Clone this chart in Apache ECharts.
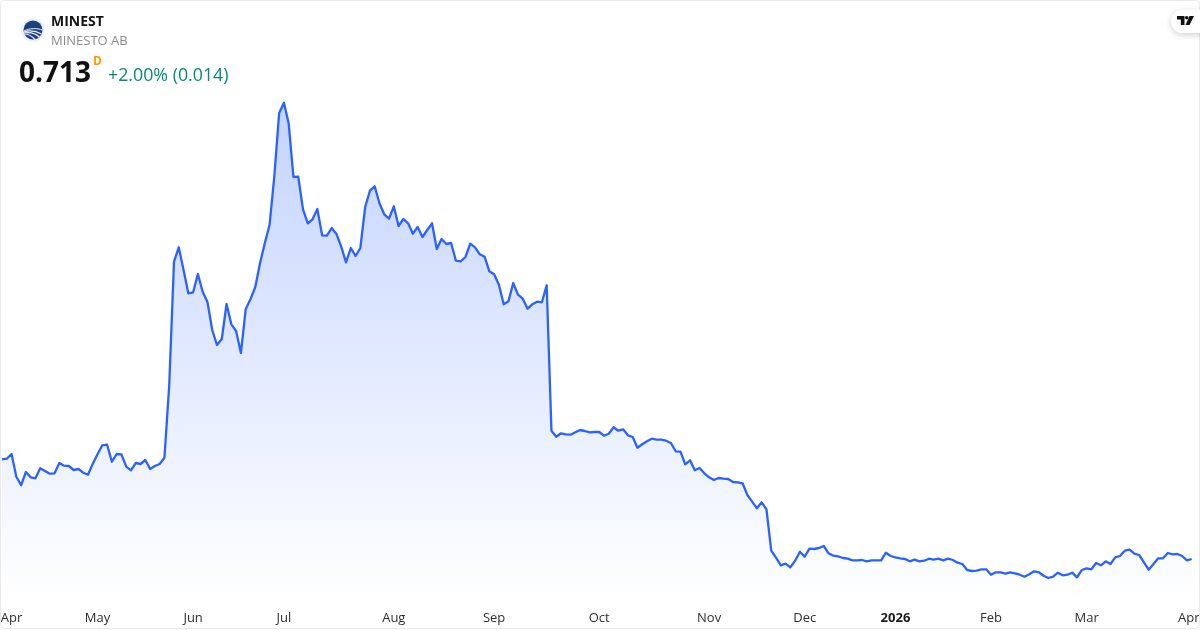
<!DOCTYPE html>
<html>
<head>
<meta charset="utf-8">
<style>html,body{margin:0;padding:0;background:#fff}#c{width:1200px;height:630px}</style>
<script src="https://cdn.jsdelivr.net/npm/echarts@6/dist/echarts.min.js"></script>
</head>
<body>
<div id="c"></div>
<script>
const symbol = "MINEST";
const company = "MINESTO AB";
const lastPrice = "0.713";
const resolution = "D";
const changeText = "+2.00% (0.014)";

const tradingDays = [
  ["2025-04", [1,2,3,4,7,8,9,10,11,14,15,16,17,22,23,24,25,28,29,30]],
  ["2025-05", [2,5,6,7,8,9,12,13,14,15,16,19,20,21,22,23,26,27,28,30]],
  ["2025-06", [2,3,4,5,9,10,11,12,13,16,17,18,19,23,24,25,26,27,30]],
  ["2025-07", [1,2,3,4,7,8,9,10,11,14,15,16,17,18,21,22,23,24,25,28,29,30,31]],
  ["2025-08", [1,4,5,6,7,8,11,12,13,14,15,18,19,20,21,22,25,26,27,28,29]],
  ["2025-09", [1,2,3,4,5,8,9,10,11,12,15,16,17,18,19,22,23,24,25,26,29,30]],
  ["2025-10", [1,2,3,6,7,8,9,10,13,14,15,16,17,20,21,22,23,24,27,28,29,30,31]],
  ["2025-11", [3,4,5,6,7,10,11,12,13,14,17,18,19,20,21,24,25,26,27,28]],
  ["2025-12", [1,2,3,4,5,8,9,10,11,12,15,16,17,18,19,22,23,29,30]],
  ["2026-01", [2,5,7,8,9,12,13,14,15,16,19,20,21,22,23,26,27,28,29,30]],
  ["2026-02", [2,3,4,5,6,9,10,11,12,13,16,17,18,19,20,23,24,25,26,27]],
  ["2026-03", [2,3,4,5,6,9,10,11,12,13,16,17,18,19,20,23,24,25,26,27,30,31]],
  ["2026-04", [1]]
];
const monthLabels = ["Apr","May","Jun","Jul","Aug","Sep","Oct","Nov","Dec","2026","Feb","Mar","Apr"];

const closeApr = [1.710,1.716,1.763,1.536,1.450,1.583,1.530,1.520,1.620,1.593,1.566,1.570,1.673,1.646,1.643,1.603,1.613,1.576,1.556,1.666];
const closeMay = [1.760,1.850,1.856,1.686,1.763,1.760,1.636,1.600,1.673,1.663,1.703,1.613,1.643,1.663,1.726,2.453,3.686,3.830,3.603,3.370];
const closeJun = [3.380,3.563,3.386,3.283,3.003,2.853,2.913,3.263,3.060,2.993,2.773,3.210,3.310,3.430,3.670,3.870,4.053,4.543,5.170];
const closeJul = [5.276,5.070,4.533,4.536,4.210,4.070,4.110,4.213,3.950,3.946,4.023,3.963,3.836,3.680,3.823,3.743,3.823,4.230,4.396,4.440,4.270,4.160,4.116];
const closeAug = [4.240,4.043,4.113,4.070,3.966,4.033,3.933,4.003,4.070,3.813,3.913,3.863,3.873,3.696,3.690,3.733,3.866,3.830,3.760,3.736,3.590];
const closeSep = [3.560,3.456,3.260,3.290,3.473,3.356,3.316,3.216,3.260,3.286,3.280,3.450,1.996,1.936,1.970,1.960,1.956,1.980,2.003,1.993,1.980,1.983];
const closeOct = [1.983,1.946,1.966,2.030,1.996,2.010,1.950,1.933,1.826,1.860,1.890,1.916,1.906,1.906,1.896,1.873,1.790,1.786,1.660,1.700,1.600,1.623,1.570];
const closeNov = [1.530,1.503,1.523,1.516,1.513,1.483,1.480,1.470,1.353,1.286,1.220,1.280,1.210,0.796,0.726,0.650,0.666,0.630,0.696,0.786];
const closeDec = [0.736,0.816,0.813,0.823,0.843,0.770,0.746,0.740,0.723,0.716,0.700,0.700,0.703,0.690,0.700,0.700,0.700,0.776,0.743];
const closeJan = [0.730,0.720,0.713,0.690,0.706,0.690,0.696,0.716,0.706,0.716,0.700,0.716,0.703,0.676,0.663,0.603,0.593,0.596,0.610,0.610];
const closeFeb = [0.556,0.580,0.580,0.566,0.580,0.570,0.556,0.536,0.560,0.590,0.580,0.546,0.523,0.536,0.576,0.550,0.556,0.576,0.530,0.603];
const closeMar = [0.620,0.610,0.673,0.650,0.690,0.663,0.730,0.743,0.796,0.806,0.766,0.753,0.680,0.606,0.663,0.720,0.720,0.773,0.760,0.763,0.743,0.699];
const closeAprEnd = [0.713];

const closes = [].concat(closeApr,closeMay,closeJun,closeJul,closeAug,closeSep,closeOct,closeNov,closeDec,closeJan,closeFeb,closeMar,closeAprEnd);
const categories = [];
const firstOfMonth = {};
tradingDays.forEach(function (m, k) {
  firstOfMonth[categories.length] = monthLabels[k];
  m[1].forEach(function (d) { categories.push(m[0] + "-" + String(d).padStart(2, "0")); });
});
const lastIndex = categories.length - 1;

const FONT = '"Open Sans", sans-serif';
const stripe = "#eef1f9";
const chart = echarts.init(document.getElementById("c"), null, {renderer: "canvas"});
chart.setOption({
  animation: false,
  backgroundColor: "#ffffff",
  grid: {left: 2, width: 1189.7, top: 100, height: 500, containLabel: false, outerBoundsMode: "none"},
  xAxis: {
    type: "category",
    data: categories,
    boundaryGap: false,
    axisLine: {show: false},
    axisTick: {show: false},
    splitLine: {show: false},
    axisLabel: {
      show: true,
      margin: 12,
      interval: function (i) { return firstOfMonth[i] !== undefined; },
      hideOverlap: false,
      showMinLabel: true,
      showMaxLabel: true,
      formatter: function (v, i) {
        const t = firstOfMonth[i];
        if (t === undefined) return "";
        if (i === 0) return "{first|" + t + "}";
        if (i === lastIndex) return "{last|" + t + "}";
        if (t === "2026") return "{year|" + t + "}";
        return "{m|" + t + "}";
      },
      rich: {
        m: {fontFamily: FONT, fontSize: 13, color: "#2e2e2e"},
        year: {fontFamily: FONT, fontSize: 13, fontWeight: "bold", color: "#1a1a1a"},
        first: {fontFamily: FONT, fontSize: 13, color: "#2e2e2e", padding: [0, 0, 0, 19]},
        last: {fontFamily: FONT, fontSize: 13, color: "#2e2e2e", padding: [0, 6, 0, 0]}
      }
    }
  },
  yAxis: {type: "value", min: 0.303, max: 5.303, show: false},
  series: [{
    type: "line",
    data: closes,
    showSymbol: false,
    symbol: "none",
    smooth: false,
    clip: false,
    lineStyle: {color: "#2962ff", width: 2.3, join: "round"},
    areaStyle: {
      origin: "start",
      opacity: 1,
      color: new echarts.graphic.LinearGradient(0, 0, 0, 1, [
        {offset: 0, color: "rgba(41,98,255,0.28)"},
        {offset: 1, color: "rgba(41,98,255,0)"}
      ])
    }
  }],
  graphic: [
    {type: "rect", silent: true, z: 50, shape: {x: 0.5, y: 0.5, width: 1199, height: 628, r: 4},
     style: {fill: "none", stroke: "#e9e9e9", lineWidth: 1}},
    {type: "circle", z: 60, shape: {cx: 33, cy: 30, r: 12}, style: {fill: "#eef1f9"}},
    {type: "circle", z: 61, shape: {cx: 33, cy: 30, r: 9.5}, style: {fill: "#1d4080"}},
    {type: "bezierCurve", z: 62, shape: {x1: 24, y1: 31, x2: 42.5, y2: 30, cpx1: 30, cpy1: 28, cpx2: 37, cpy2: 28}, style: {stroke: stripe, lineWidth: 1, fill: "none"}},
    {type: "bezierCurve", z: 62, shape: {x1: 24, y1: 32, x2: 41.5, y2: 34, cpx1: 30, cpy1: 30, cpx2: 36, cpy2: 31}, style: {stroke: stripe, lineWidth: 1.2, fill: "none"}},
    {type: "bezierCurve", z: 62, shape: {x1: 24, y1: 33, x2: 39.5, y2: 37, cpx1: 29, cpy1: 32, cpx2: 35, cpy2: 33}, style: {stroke: stripe, lineWidth: 1.2, fill: "none"}},
    {type: "bezierCurve", z: 62, shape: {x1: 24, y1: 34, x2: 35, y2: 39.5, cpx1: 28, cpy1: 34, cpx2: 32, cpy2: 36}, style: {stroke: stripe, lineWidth: 1.2, fill: "none"}},
    {type: "text", z: 60, x: 51, y: 22, style: {text: symbol, font: 'bold 14px "Open Sans", sans-serif', fill: "#141414", verticalAlign: "middle"}},
    {type: "text", z: 60, x: 51, y: 41.5, style: {text: company, font: '13px "Open Sans", sans-serif', fill: "#8c8c8c", verticalAlign: "middle"}},
    {type: "text", z: 60, x: 19, y: 74, style: {text: lastPrice, font: 'bold 28px "Open Sans", sans-serif', fill: "#111111", verticalAlign: "middle"}},
    {type: "text", z: 60, x: 93, y: 62, style: {text: resolution, font: 'bold 12px "Open Sans", sans-serif', fill: "#ff9800", verticalAlign: "middle"}},
    {type: "text", z: 60, x: 108, y: 76, style: {text: changeText, font: '17.8px "Open Sans", sans-serif', fill: "#068a74", verticalAlign: "middle"}},
    {type: "rect", z: 60, shape: {x: 1171, y: 9.5, width: 50, height: 23.5, r: 11.5},
     style: {fill: "#ffffff", shadowBlur: 6, shadowColor: "rgba(0,0,0,0.18)", shadowOffsetY: 2}},
    {type: "polygon", z: 61, shape: {points: [[1177,16],[1184.5,16],[1184.5,25],[1180.8,25],[1180.8,19.5],[1177,19.5]]}, style: {fill: "#111111"}},
    {type: "circle", z: 61, shape: {cx: 1186.7, cy: 17.8, r: 1.8}, style: {fill: "#111111"}},
    {type: "polygon", z: 61, shape: {points: [[1189.5,16],[1194,16],[1189.5,25],[1185.5,25]]}, style: {fill: "#111111"}}
  ]
});
</script>
</body>
</html>
